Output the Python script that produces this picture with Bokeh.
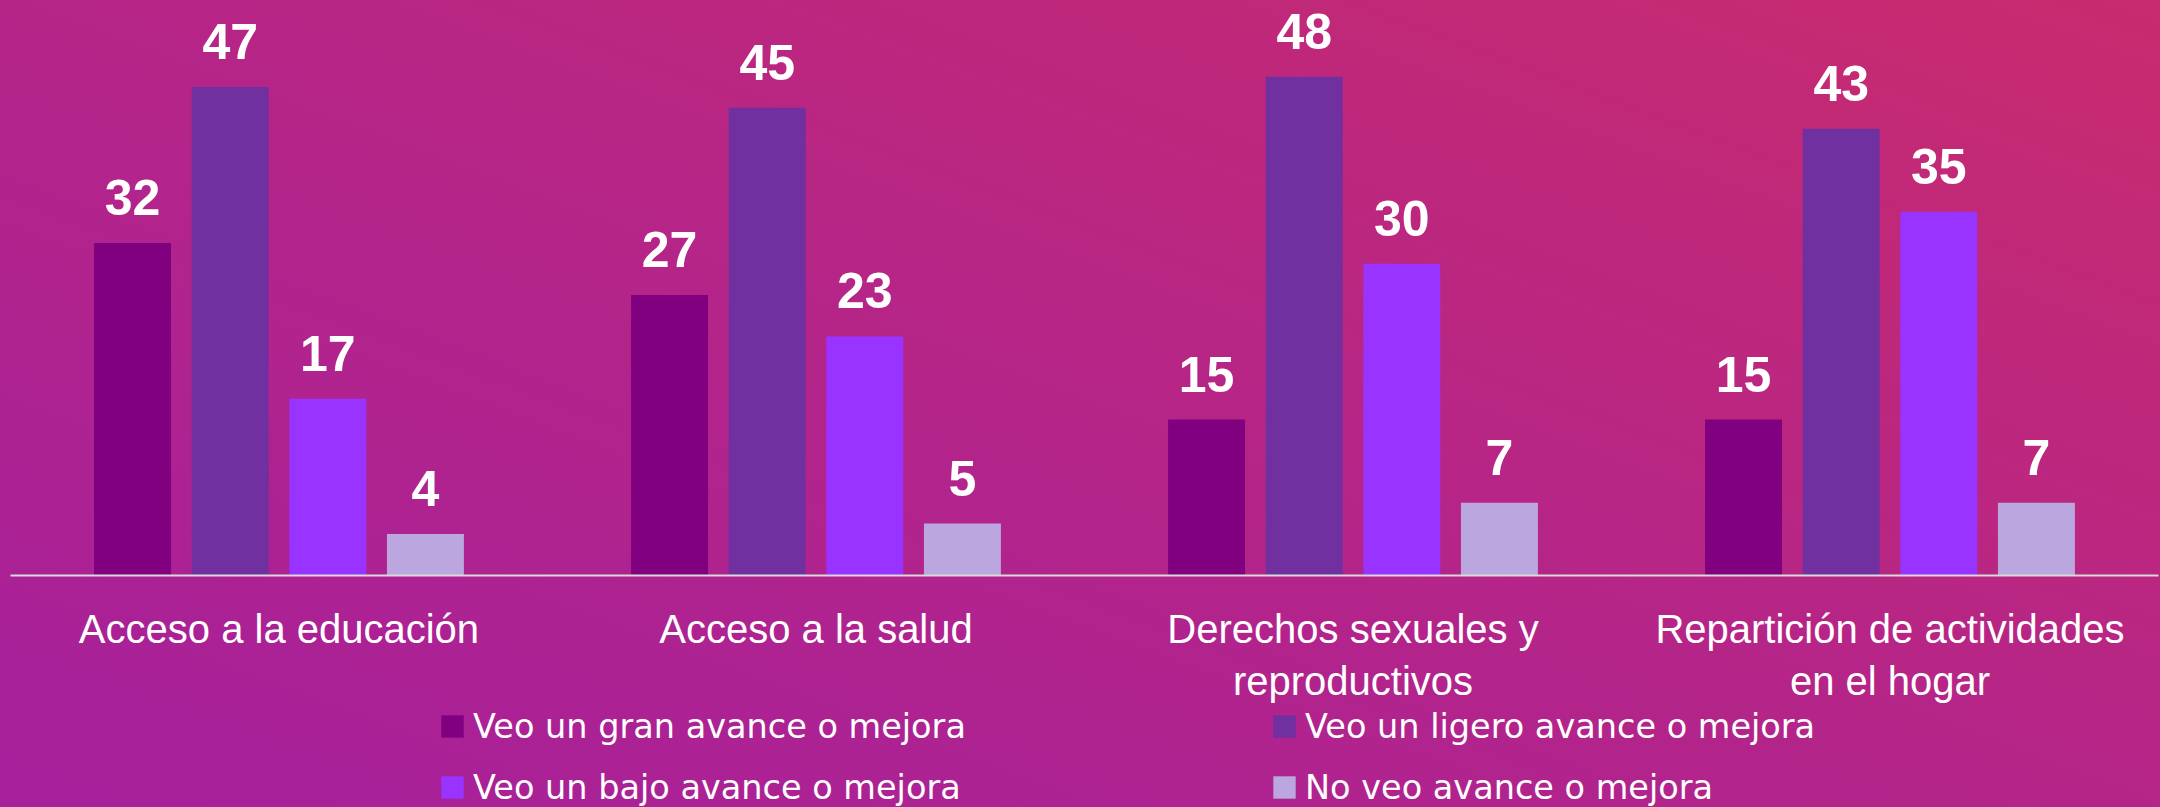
from bokeh.plotting import figure
from bokeh.layouts import column
from bokeh.models import (ColumnDataSource, FixedTicker, Legend, LegendItem,
                          LabelSet, Range1d, GlobalInlineStyleSheet)
from bokeh.core.properties import value
from bokeh.transform import dodge
from bokeh.embed import file_html
from bokeh.resources import INLINE

# ---- data ----
categories = ["Acceso a la educación", "Acceso a la salud",
              "Derechos sexuales y\nreproductivos",
              "Repartición de actividades\nen el hogar"]
series_names = ["Veo un gran avance o mejora", "Veo un ligero avance o mejora",
                "Veo un bajo avance o mejora", "No veo avance o mejora"]
gran = [32, 27, 15, 15]
ligero = [47, 45, 48, 43]
bajo = [17, 23, 30, 35]
no_veo = [4, 5, 7, 7]

colors = ["#800080", "#7030A0", "#9933FF", "#BBA6E0"]
offsets = [-0.2727, -0.0909, 0.0909, 0.2727]
bar_w = 0.1433

p = figure(width=2160, height=706,
           x_range=Range1d(-0.5, 3.5), y_range=Range1d(0, 55.33),
           output_backend="svg", toolbar_location=None,
           min_border_left=10, min_border_right=2, min_border_top=0,
           min_border_bottom=130, y_axis_location=None)
p.background_fill_alpha = 0
p.border_fill_alpha = 0
p.outline_line_color = None
p.xgrid.visible = False
p.ygrid.visible = False
p.stylesheets = [GlobalInlineStyleSheet(css=(
    "html{height:100%;background:linear-gradient(to top right,#A6209C 0%,#B52588 50%,#C82B6E 100%) fixed;}"
    "body{background:transparent;}"))]

xa = p.xaxis[0]
xa.ticker = FixedTicker(ticks=list(range(len(categories))))
xa.major_label_overrides = {i: c for i, c in enumerate(categories)}
xa.axis_line_color = "#D9D9D9"
xa.axis_line_width = 2
xa.major_tick_line_color = None
xa.minor_tick_line_color = None
xa.major_tick_out = 0
xa.major_tick_in = 0
xa.major_label_standoff = 31
xa.major_label_text_font = "Liberation Sans"
xa.major_label_text_font_size = "40px"
xa.major_label_text_color = "white"
xa.major_label_text_line_height = 1.2

# ---- legend figure (same borders so column alignment does not move p) ----
p2 = figure(width=2160, height=101, x_range=Range1d(-0.5, 3.5),
            y_range=Range1d(1000, 1001),
            output_backend="svg", toolbar_location=None,
            min_border_left=10, min_border_right=2, min_border_top=0,
            min_border_bottom=0, x_axis_location=None, y_axis_location=None)
p2.background_fill_alpha = 0
p2.border_fill_alpha = 0
p2.outline_line_color = None
p2.xgrid.visible = False
p2.ygrid.visible = False

items = []
for name, vals, col, off in zip(series_names, [gran, ligero, bajo, no_veo], colors, offsets):
    src = ColumnDataSource(dict(x=list(range(len(categories))), y=vals,
                                label=[str(v) for v in vals]))
    p.vbar(x=dodge("x", off, range=p.x_range), top="y", width=bar_w,
           source=src, fill_color=col, line_color=None)
    lbl = LabelSet(x=dodge("x", off, range=p.x_range), y="y", text="label",
                   source=src, text_align="center", text_baseline="alphabetic",
                   y_offset=28, text_color="white",
                   text_font=value("Liberation Sans"),
                   text_font_style="bold", text_font_size="50px")
    p.add_layout(lbl)
    # legend proxy: same data, drawn below p2's visible y range
    r2 = p2.vbar(x=dodge("x", off, range=p2.x_range), top="y", width=bar_w,
                 source=src, fill_color=col, line_color=None)
    items.append(LegendItem(label=name, renderers=[r2]))

legend = Legend(items=items, ncols=2, orientation="horizontal",
                location=(428, 0), margin=0, padding=0,
                border_line_color=None, background_fill_alpha=0,
                glyph_width=28, glyph_height=28, label_height=40,
                label_width=776, label_standoff=7, spacing=21,
                label_text_font="DejaVu Sans", label_text_font_size="33.5px",
                label_text_color="white")
p2.add_layout(legend)

layout = column(p, p2, spacing=0)
open("out.html", "w").write(file_html(layout, INLINE))
